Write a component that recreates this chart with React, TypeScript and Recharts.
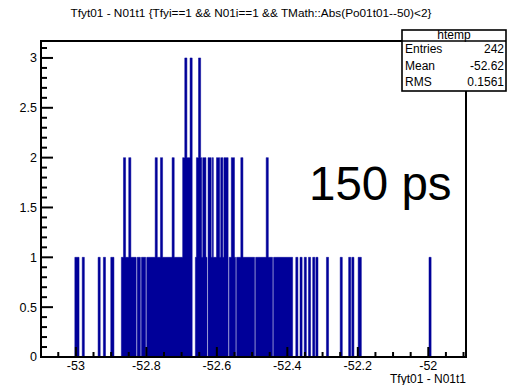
import React from 'react';
import { AreaChart, Area, XAxis, YAxis, ReferenceArea } from 'recharts';

// histogram binning (ns)
const binLow = -53.009;
const binWidth = 0.003;

// entries per bin, 20 bins per row
const binCounts = [
  0, 0, 1, 1, 1, 1, 0, 0, 0, 1, 1, 0, 0, 0, 0, 0, 0, 0, 0, 0,
  0, 0, 0, 0, 1, 1, 0, 0, 0, 1, 1, 0, 0, 0, 0, 0, 1, 1, 1, 0,
  0, 0, 0, 0, 0, 0, 1, 1, 2, 2, 1, 1, 1, 2, 2, 1, 1, 1, 1, 1,
  0, 1, 1, 1, 0, 1, 1, 1, 1, 0, 1, 1, 1, 1, 1, 1, 1, 1, 2, 2,
  1, 1, 1, 2, 2, 1, 1, 1, 1, 1, 1, 1, 1, 1, 2, 2, 1, 1, 1, 1,
  1, 1, 1, 1, 2, 2, 3, 3, 2, 2, 2, 3, 3, 0, 0, 0, 1, 2, 2, 3,
  3, 2, 1, 2, 2, 2, 1, 0, 2, 2, 2, 1, 2, 1, 1, 1, 2, 2, 2, 1,
  2, 2, 1, 2, 2, 2, 2, 0, 1, 1, 2, 2, 2, 1, 0, 1, 1, 1, 1, 2,
  2, 1, 1, 1, 1, 1, 1, 1, 1, 1, 1, 1, 0, 1, 1, 1, 1, 1, 1, 1,
  1, 1, 1, 2, 2, 1, 1, 1, 1, 0, 1, 1, 1, 1, 1, 1, 1, 1, 1, 1,
  1, 1, 1, 1, 1, 1, 1, 1, 0, 0, 0, 1, 1, 0, 0, 1, 1, 0, 0, 1,
  1, 0, 0, 1, 1, 0, 0, 1, 1, 0, 1, 1, 0, 0, 0, 0, 0, 0, 0, 0,
  1, 1, 0, 0, 0, 0, 0, 0, 0, 0, 0, 0, 0, 1, 1, 0, 0, 0, 0, 0,
  0, 1, 1, 0, 1, 1, 0, 0, 0, 0, 1, 1, 1, 0, 0, 0, 0, 0, 0, 0,
  0, 0, 0, 0, 0, 0, 0, 0, 0, 0, 0, 0, 0, 0, 0, 0, 0, 0, 0, 0,
  0, 0, 0, 0, 0, 0, 0, 0, 0, 0, 0, 0, 0, 0, 0, 0, 0, 0, 0, 0,
  0, 0, 0, 0, 0, 0, 0, 0, 0, 0, 0, 0, 0, 0, 0, 0, 0, 1, 1,
];

const xTicks = [
  -53.05, -53, -52.95, -52.9, -52.85, -52.8, -52.75, -52.7, -52.65, -52.6, -52.55, -52.5,
  -52.45, -52.4, -52.35, -52.3, -52.25, -52.2, -52.15, -52.1, -52.05, -52, -51.95, -51.9,
];
const xMajor = [-53, -52.8, -52.6, -52.4, -52.2, -52];

const yTicks = [
  0, 0.1, 0.2, 0.3, 0.4, 0.5, 0.6, 0.7, 0.8, 0.9, 1, 1.1, 1.2, 1.3, 1.4, 1.5,
  1.6, 1.7, 1.8, 1.9, 2, 2.1, 2.2, 2.3, 2.4, 2.5, 2.6, 2.7, 2.8, 2.9, 3, 3.1,
];
const yMajor = [0, 0.5, 1, 1.5, 2, 2.5, 3];

const title = 'Tfyt01 - N01t1 {Tfyi==1 && N01i==1 && TMath::Abs(Po01t01--50)<2}';
const xTitle = 'Tfyt01 - N01t1';
const statsName = 'htemp';
const statsRows = [
  ['Entries', '242'],
  ['Mean', '-52.62'],
  ['RMS', '0.1561'],
];
const note = '150 ps';

const xMin = -53.099;
const xMax = -51.893;
const yMax = 3.17;

const FONT = "'Liberation Sans', Arial, Helvetica, sans-serif";
const HIST = '#000099';

// step points on the lower bin edges, closed with a trailing zero
const histData = binCounts
  .map((n, i) => ({ x: binLow + i * binWidth, n }))
  .concat([{ x: binLow + binCounts.length * binWidth, n: 0 }]);

const isIn = (list: number[], v: number) => list.some(m => Math.abs(m - v) < 1e-6);
const fmt = (v: number) => String(Number(v.toFixed(2)));

// ROOT-style ticks: drawn inward from the frame, label only on majors
const XTick = (props: any) => {
  const { x, y, payload } = props;
  const major = isIn(xMajor, payload.value);
  return (
    <g>
      <line x1={x} x2={x} y1={y} y2={y - (major ? 10 : 5)} stroke="#000" strokeWidth={2} />
      {major && (
        <text x={x} y={y + 12.5} textAnchor="middle" fontFamily={FONT} fontSize={12.5} fill="#000">
          {fmt(payload.value)}
        </text>
      )}
    </g>
  );
};

const YTick = (props: any) => {
  const { x, y, payload } = props;
  const major = isIn(yMajor, payload.value);
  return (
    <g>
      <line x1={x} x2={x + (major ? 12 : 6)} y1={y} y2={y} stroke="#000" strokeWidth={2} />
      {major && (
        <text x={x - 4} y={y} dy="0.35em" textAnchor="end" fontFamily={FONT} fontSize={12.5} fill="#000">
          {fmt(payload.value)}
        </text>
      )}
    </g>
  );
};

export default function App() {
  return (
    <div style={{ position: 'absolute', left: 0, top: 0, width: 508, height: 385, background: '#fff' }}>
      <AreaChart
        width={508}
        height={385}
        data={histData}
        margin={{ top: 41, right: 42, bottom: 0, left: 0 }}
      >
        <Area
          type="stepAfter"
          dataKey="n"
          fill={HIST}
          fillOpacity={1}
          stroke={HIST}
          strokeWidth={0.5}
          dot={false}
          activeDot={false}
          isAnimationActive={false}
        />
        <XAxis
          type="number"
          dataKey="x"
          domain={[xMin, xMax]}
          allowDataOverflow
          ticks={xTicks}
          interval={0}
          height={28}
          tickSize={0}
          tickMargin={0}
          axisLine={false}
          tickLine={false}
          tick={<XTick />}
        />
        <YAxis
          type="number"
          domain={[0, yMax]}
          allowDataOverflow
          ticks={yTicks}
          interval={0}
          width={41}
          tickSize={0}
          tickMargin={0}
          axisLine={false}
          tickLine={false}
          tick={<YTick />}
        />
        <ReferenceArea x1={xMin} x2={xMax} y1={0} y2={yMax} fill="none" stroke="#000" strokeWidth={2} />
      </AreaChart>
      <svg
        width={508}
        height={385}
        style={{ position: 'absolute', left: 0, top: 0, pointerEvents: 'none' }}
        fontFamily={FONT}
      >
        <text x={251} y={17} textAnchor="middle" fontSize={11.8} fill="#000">{title}</text>
        <rect x={402} y={30} width={104} height={61} fill="#fff" stroke="#000" strokeWidth={1.6} />
        <line x1={402} x2={506} y1={41} y2={41} stroke="#000" strokeWidth={1.6} />
        <text x={454} y={38.5} textAnchor="middle" fontSize={12} fill="#000">{statsName}</text>
        {statsRows.map(([k, v], i) => (
          <g key={k}>
            <text x={405} y={53 + i * 16.5} fontSize={12} fill="#000">{k}</text>
            <text x={504} y={53 + i * 16.5} textAnchor="end" fontSize={12} fill="#000">{v}</text>
          </g>
        ))}
        <text x={309} y={199.5} fontSize={47.5} fill="#000">{note}</text>
        <text x={466} y={383} textAnchor="end" fontSize={12} fill="#000">{xTitle}</text>
      </svg>
    </div>
  );
}
